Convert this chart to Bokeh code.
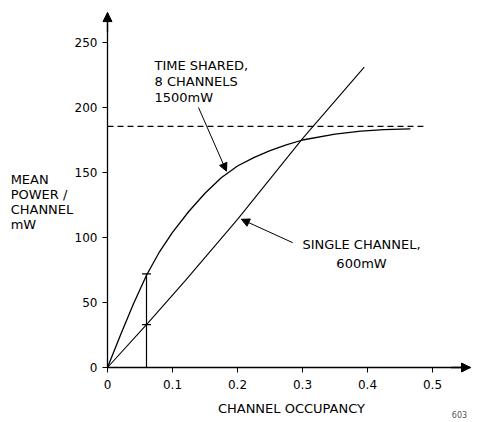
from bokeh.plotting import figure
from bokeh.models import Label, Arrow, NormalHead, FixedTicker, Range1d
from bokeh.embed import file_html
from bokeh.resources import INLINE

# ---- data ----
occupancy_ts = [0, 0.02, 0.04, 0.06, 0.08, 0.10, 0.125, 0.15, 0.175, 0.20,
                0.225, 0.25, 0.275, 0.30, 0.35, 0.39, 0.425, 0.466]
power_ts = [0, 25, 49, 71, 89, 104, 120, 134, 146, 155,
            161.5, 166.8, 171.2, 175, 179.5, 181.8, 183, 183.5]

occupancy_sc = [0, 0.06, 0.12, 0.20, 0.30, 0.395]
power_sc = [0, 33, 67, 114, 176, 231]

asymptote_x = [0, 0.486]
asymptote_y = [185.5, 185.5]

marker_x = [0.06, 0.06]
marker_y = [72, 33]

x_ticks = [0, 0.1, 0.2, 0.3, 0.4, 0.5]
x_tick_labels = ["0", "0.1", "0.2", "0.3", "0.4", "0.5"]
y_ticks = [0, 50, 100, 150, 200, 250]
y_tick_labels = ["0", "50", "100", "150", "200", "250"]
x_axis_end = 0.5585
y_axis_end = 273

FONT = "DejaVu Sans"
W, H = 480, 422
X0_PX, Y0_PX = 107, 367          # pixel position of the origin
PX_X, PX_Y = 650.0, 1.3          # pixels per data unit

p = figure(width=W, height=H, output_backend="svg", toolbar_location=None,
           x_range=Range1d(-X0_PX / PX_X, (W - X0_PX) / PX_X),
           y_range=Range1d((Y0_PX - H) / PX_Y, Y0_PX / PX_Y),
           min_border=0)
p.outline_line_color = None
p.xgrid.visible = False
p.ygrid.visible = False
p.background_fill_color = "white"
p.border_fill_color = "white"

for ax in (p.xaxis, p.yaxis):
    ax.fixed_location = 0
    ax.axis_line_width = 1.3
    ax.axis_line_color = "black"
    ax.major_tick_in = 0
    ax.major_tick_out = 5
    ax.major_tick_line_color = "black"
    ax.minor_tick_line_color = None
    ax.major_label_text_font = FONT
    ax.major_label_text_font_size = "12px"
    ax.major_label_text_color = "black"

p.xaxis.bounds = (0, x_axis_end)
p.yaxis.bounds = (0, y_axis_end)
p.xaxis.ticker = FixedTicker(ticks=x_ticks)
p.xaxis.major_label_overrides = {t: l for t, l in zip(x_ticks, x_tick_labels)}
p.xaxis.major_label_standoff = 7
p.yaxis.ticker = FixedTicker(ticks=y_ticks)
p.yaxis.major_label_overrides = {t: l for t, l in zip(y_ticks, y_tick_labels)}
p.yaxis.major_label_standoff = 5

# axis arrow heads
p.add_layout(Arrow(x_start=0, y_start=y_axis_end - 15, x_end=0, y_end=y_axis_end, line_width=1.3,
                   end=NormalHead(size=9, fill_color="black", line_color="black")))
p.add_layout(Arrow(x_start=x_axis_end - 0.03, y_start=0, x_end=x_axis_end, y_end=0, line_width=1.3,
                   end=NormalHead(size=9, fill_color="black", line_color="black")))

# curves
p.line(occupancy_ts, power_ts, line_color="black", line_width=1.3, line_join="round")
p.line(occupancy_sc, power_sc, line_color="black", line_width=1.1)
p.line(asymptote_x, asymptote_y, line_color="black", line_width=1.1, line_dash="6 4")

# vertical marker line and crosses
p.segment(x0=[marker_x[0]], y0=[0], x1=[marker_x[0]], y1=[max(marker_y)],
          line_color="black", line_width=1.2)
p.scatter(marker_x, marker_y, marker="dash", size=9, line_color="black", line_width=1.3)

def lab(x, y, t, align="left", size="13px", color="black"):
    p.add_layout(Label(x=x, y=y, text=t, text_font=FONT, text_font_size=size,
                       text_color=color, text_align=align, text_baseline="middle"))

# y label
lab(-0.149, 144.6, "MEAN")
lab(-0.149, 133.1, "POWER /")
lab(-0.149, 121.5, "CHANNEL")
lab(-0.149, 110.0, "mW")

# time shared annotation
lab(0.0723, 232.3, "TIME SHARED,")
lab(0.0723, 220.0, "8 CHANNELS")
lab(0.0723, 207.7, "1500mW")
p.add_layout(Arrow(x_start=0.14, y_start=200, x_end=0.183, y_end=151, line_width=1,
                   end=NormalHead(size=8, fill_color="black", line_color="black")))

# single channel annotation
lab(0.3908, 94.6, "SINGLE CHANNEL,", align="center")
lab(0.3908, 80.0, "600mW", align="center")
p.add_layout(Arrow(x_start=0.285, y_start=96, x_end=0.206, y_end=114, line_width=1,
                   end=NormalHead(size=8, fill_color="black", line_color="black")))

# x label and figure number
lab(0.283, -31.5, "CHANNEL OCCUPANCY", align="center")
lab(0.5415, -36.5, "603", align="center", size="8px", color="#555555")

open("out.html", "w").write(file_html(p, INLINE))
